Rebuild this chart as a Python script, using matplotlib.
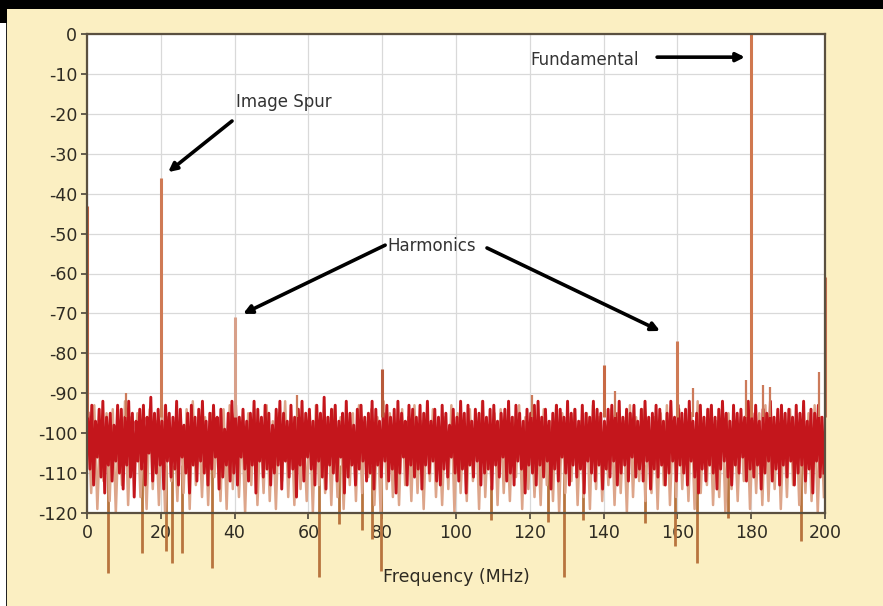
import numpy as np
import matplotlib
matplotlib.use("Agg")
import matplotlib.pyplot as plt
from matplotlib.patches import Rectangle

# ---------------- data ----------------
x_ticks = [0, 20, 40, 60, 80, 100, 120, 140, 160, 180, 200]
y_ticks = [0, -10, -20, -30, -40, -50, -60, -70, -80, -90, -100, -110, -120]
x_label = "Frequency (MHz)"

tone_freq = [0, 20, 40, 80, 140, 160, 180, 200]
tone_db = [-43, -36, -71, -84, -83, -77, 0, -61]

small_spur_freq = [164.2, 178.5, 183.2, 185.0, 198.4, 10.5, 57.0, 120.5, 143.0]
small_spur_db = [-88.7, -86.7, -88.0, -88.5, -84.7, -90.0, -90.5, -90.5, -89.5]

deep_freq = [5.7, 14.9, 21.4, 23.1, 25.7, 33.9, 62.9, 68.3, 74.5, 77.2, 79.7,
             109.5, 124.9, 129.3, 134.4, 151.2, 159.3, 165.3, 173.7, 193.5]
deep_db = [-135, -130, -129.6, -132.6, -129.9, -133.8, -136, -122.8, -124.3,
           -126.6, -134.6, -121.8, -122.3, -136, -121.8, -122.6, -128.3,
           -132.6, -121.3, -127]

red_top = [
    -95, -93, -97, -94, -92, -96, -95, -98, -93, -94,
    -96, -92, -95, -97, -94, -93, -96, -91, -95, -94,
    -97, -93, -95, -96, -92, -94, -98, -95, -93, -96,
    -94, -92, -97, -95, -93, -96, -94, -99, -95, -92,
    -93, -96, -94, -97, -95, -92, -94, -96, -93, -95,
    -98, -94, -92, -95, -97, -93, -96, -94, -92, -95,
    -94, -97, -93, -95, -91, -96, -94, -93, -97, -95,
    -92, -95, -98, -94, -93, -96, -95, -92, -94, -97,
    -95, -93, -96, -94, -92, -95, -97, -93, -94, -96,
    -93, -95, -92, -97, -94, -96, -93, -95, -98, -94,
    -96, -92, -95, -93, -97, -94, -95, -92, -96, -94,
    -93, -97, -95, -94, -92, -96, -93, -95, -97, -94,
    -95, -93, -92, -96, -94, -97, -95, -93, -94, -96,
    -92, -95, -94, -97, -93, -95, -96, -92, -94, -95,
    -97, -94, -93, -95, -92, -96, -94, -95, -93, -97,
    -94, -92, -96, -95, -93, -94, -97, -95, -92, -96,
    -93, -95, -94, -92, -97, -95, -93, -96, -94, -93,
    -96, -94, -92, -95, -97, -93, -95, -94, -96, -92,
    -95, -93, -97, -94, -95, -92, -96, -94, -93, -95,
    -94, -96, -93, -95, -92, -97, -94, -95, -93, -96]

red_bot = [
    -109, -113, -106, -111, -115, -108, -112, -107, -110, -114,
    -108, -111, -116, -107, -109, -113, -105, -112, -110, -108,
    -114, -107, -111, -109, -113, -106, -110, -115, -108, -112,
    -107, -110, -113, -109, -106, -114, -111, -108, -112, -110,
    -113, -106, -109, -112, -108, -115, -107, -111, -109, -113,
    -110, -108, -114, -107, -111, -109, -116, -108, -112, -106,
    -109, -113, -107, -111, -114, -108, -110, -112, -106, -115,
    -111, -108, -113, -109, -107, -112, -110, -114, -108, -111,
    -107, -112, -109, -115, -110, -106, -113, -108, -111, -109,
    -114, -108, -110, -107, -112, -113, -109, -111, -106, -110,
    -112, -109, -115, -108, -111, -107, -113, -110, -109, -114,
    -108, -111, -106, -112, -110, -113, -107, -109, -115, -108,
    -110, -113, -108, -111, -107, -114, -109, -112, -106, -110,
    -113, -108, -111, -109, -115, -107, -110, -112, -108, -114,
    -109, -111, -107, -113, -110, -108, -112, -106, -111, -109,
    -112, -107, -114, -109, -111, -108, -113, -110, -107, -112,
    -108, -110, -113, -107, -111, -115, -109, -112, -108, -110,
    -114, -109, -107, -111, -113, -108, -110, -106, -112, -109,
    -111, -108, -114, -110, -107, -112, -109, -113, -108, -111,
    -107, -113, -110, -108, -112, -109, -115, -107, -111, -110]

tan_top = [
    -96, -93, -98, -95, -94, -97, -92, -96, -95, -99,
    -94, -97, -93, -96, -98, -95, -94, -92, -97, -96,
    -95, -98, -94, -93, -96, -97, -95, -94, -98, -93,
    -97, -95, -92, -96, -94, -98, -95, -93, -97, -96,
    -94, -96, -98, -95, -93, -97, -94, -96, -92, -95,
    -98, -94, -96, -93, -97, -95, -94, -98, -96, -93,
    -95, -97, -94, -96, -92, -98, -95, -94, -97, -96,
    -93, -96, -95, -98, -94, -97, -93, -95, -96, -94,
    -97, -95, -93, -96, -98, -94, -95, -97, -93, -96,
    -94, -98, -96, -95, -93, -97, -94, -96, -95, -92,
    -96, -94, -97, -93, -95, -98, -96, -94, -97, -95,
    -93, -96, -95, -97, -94, -96, -98, -95, -93, -96]

tan_bot = [
    -115, -119, -112, -117, -120, -113, -118, -111, -116, -119,
    -114, -118, -120, -112, -117, -115, -119, -113, -116, -118,
    -111, -117, -119, -114, -116, -120, -113, -118, -115, -117,
    -119, -112, -116, -118, -114, -117, -120, -113, -115, -118,
    -116, -119, -113, -117, -115, -111, -118, -120, -114, -116,
    -118, -113, -117, -115, -119, -112, -116, -118, -114, -120,
    -115, -117, -112, -119, -116, -113, -118, -115, -117, -111,
    -119, -114, -116, -118, -113, -117, -120, -115, -112, -118,
    -116, -119, -114, -117, -113, -118, -115, -120, -116, -112,
    -117, -115, -119, -113, -118, -116, -114, -117, -119, -115,
    -113, -118, -116, -120, -114, -117, -112, -119, -115, -118,
    -117, -114, -119, -116, -113, -118, -115, -117, -120, -116]

# ---------------- figure ----------------
W, H = 883, 606
fig = plt.figure(figsize=(W / 100, H / 100), dpi=100)
cream = "#FBEFC2"
fig.patch.set_facecolor(cream)
plt.rcParams['font.family'] = ['DejaVu Sans']

# frame decorations (black band at top, white strip at left)
fig.add_artist(Rectangle((0, 0), 7 / W, 1, transform=fig.transFigure,
                         facecolor="white", edgecolor="none", zorder=0))
fig.add_artist(Rectangle((6 / W, 0), 1.5 / W, 1, transform=fig.transFigure,
                         facecolor="#222222", edgecolor="none", zorder=0))
fig.add_artist(Rectangle((0, 1 - 9 / H), 1, 9 / H, transform=fig.transFigure,
                         facecolor="black", edgecolor="none", zorder=5))
fig.add_artist(Rectangle((0, 1 - 23 / H), 7 / W, 23 / H, transform=fig.transFigure,
                         facecolor="black", edgecolor="none", zorder=5))

ax = fig.add_axes([87 / W, 1 - 513 / H, 738 / W, 479 / H])
ax.set_facecolor("white")
ax.set_xlim(0, 200)
ax.set_ylim(-120, 0)

ax.set_xticks(x_ticks)
ax.set_xticklabels([str(v) for v in x_ticks])
ax.set_yticks(y_ticks)
ax.set_yticklabels([str(v) for v in y_ticks])
txtc = "#2e2b22"
ax.tick_params(axis="both", colors="#4a4438", labelcolor=txtc, labelsize=12.5,
               length=4, width=1.2, direction="out")
ax.tick_params(axis="x", pad=4)
ax.tick_params(axis="y", pad=3)
ax.grid(True, color="#d9d9d9", lw=0.9, zorder=0)
ax.set_axisbelow(True)
for s in ax.spines.values():
    s.set_color("#5a5040")
    s.set_linewidth(1.6)
    s.set_zorder(6)

ax.set_xlabel(x_label, fontsize=12.5, color=txtc, labelpad=19)

# deep spikes (below noise, extend past axis)
ax.vlines(deep_freq, deep_db, [-108] * len(deep_freq), colors="#B8743E",
          lw=2.0, zorder=1, clip_on=False)

# tan trace
tan_f = np.linspace(0.3, 199.7, 2 * len(tan_top))
tan_v = np.empty(2 * len(tan_top))
tan_v[0::2] = tan_top
tan_v[1::2] = tan_bot
ax.plot(tan_f, tan_v, color="#DDA58A", lw=1.8, zorder=2)

# red trace
red_f = np.linspace(0.3, 199.7, 2 * len(red_top))
red_v = np.empty(2 * len(red_top))
red_v[0::2] = red_top
red_v[1::2] = red_bot
ax.plot(red_f, red_v, color="#C4161C", lw=2.1, zorder=3)

# small spurs
ax.vlines(small_spur_freq, [-96] * len(small_spur_freq), small_spur_db,
          colors="#CC7A5A", lw=1.6, zorder=4)

# tones
tone_cols = ["#C2603E", "#CF7A55", "#D8A08A", "#B85A3A", "#C86A45",
             "#CF7A55", "#D0784F", "#C87050"]
for f, d, c in zip(tone_freq, tone_db, tone_cols):
    ax.vlines([f], -96, d, colors=c, lw=2.2, zorder=4, clip_on=False)

# annotations
arrow = dict(arrowstyle="-|>,head_length=0.5,head_width=0.25", color="black",
             lw=2.6, shrinkA=0, shrinkB=0)
ac = "#333333"
ax.text(120.1, -6.5, "Fundamental", fontsize=12, color=ac, va="center", ha="left")
ax.annotate("", xy=(178.3, -5.8), xytext=(154.5, -5.8), arrowprops=arrow)
ax.text(40.4, -17.0, "Image Spur", fontsize=12, color=ac, va="center", ha="left")
ax.annotate("", xy=(22.0, -34.6), xytext=(39.3, -21.8), arrowprops=arrow)
ax.text(81.3, -53.1, "Harmonics", fontsize=12, color=ac, va="center", ha="left")
ax.annotate("", xy=(42.3, -70.1), xytext=(80.8, -52.9), arrowprops=arrow)
ax.annotate("", xy=(155.3, -74.4), xytext=(108.4, -53.6), arrowprops=arrow)

fig.savefig("out.png", dpi=100, facecolor=fig.get_facecolor())
